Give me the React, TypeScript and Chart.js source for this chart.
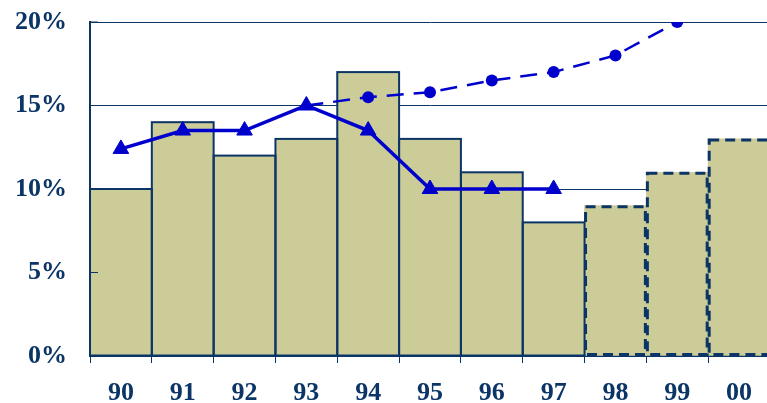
import React, { useEffect, useRef } from "react";
import { Chart, registerables } from "chart.js";

Chart.register(...registerables);

const categories = ["90", "91", "92", "93", "94", "95", "96", "97", "98", "99", "00"];
const barValues = [10, 14, 12, 13, 17, 13, 11, 8, 9, 11, 13];
const dashedBars = [false, false, false, false, false, false, false, false, true, true, true];
const actualLine = [12.4, 13.5, 13.5, 15, 13.5, 10, 10, 10, null, null, null];
const projectedLine = [null, null, null, 15, 15.5, 15.8, 16.5, 17, 18, 20, null];
const projectedRadius = [0, 0, 0, 0, 6, 6, 6, 6, 6, 6, 0];
const yTicks = [0, 5, 10, 15, 20];

const NAVY = "#0b3566";
const BLUE = "#0000cc";
const FILL = "#cccc99";

const outlinePlugin = {
  id: "outline",
  afterDatasetDraw(chart: any, args: any) {
    if (args.index !== 0) return;
    const ctx = chart.ctx;
    const meta = chart.getDatasetMeta(0);
    ctx.save();
    ctx.strokeStyle = NAVY;
    meta.data.forEach((bar: any, i: number) => {
      const p = bar.getProps(["x", "y", "base", "width"], true);
      const left = p.x - p.width / 2;
      const right = p.x + p.width / 2;
      if (dashedBars[i]) {
        ctx.lineWidth = 3;
        ctx.setLineDash([10, 6]);
        ctx.strokeRect(left + 1, p.y + 1, right - left - 2, p.base - p.y - 2);
      } else {
        ctx.lineWidth = 2;
        ctx.setLineDash([]);
        ctx.strokeRect(left, p.y, right - left, p.base - p.y);
      }
    });
    ctx.setLineDash([]);
    const y = chart.scales.y;
    const area = chart.chartArea;
    ctx.lineWidth = 1;
    yTicks.forEach((v) => {
      const py = y.getPixelForValue(v);
      ctx.beginPath();
      ctx.moveTo(area.left, py);
      ctx.lineTo(area.left + 8, py);
      ctx.stroke();
    });
    ctx.restore();
  },
};

export default function App() {
  const ref = useRef<HTMLCanvasElement | null>(null);
  useEffect(() => {
    document.body.style.margin = "0";
    document.body.style.overflow = "hidden";
    const chart = new Chart(ref.current as HTMLCanvasElement, {
      type: "bar",
      data: {
        labels: categories,
        datasets: [
          {
            type: "bar",
            data: barValues,
            backgroundColor: FILL,
            borderWidth: 0,
            categoryPercentage: 1,
            barPercentage: 1,
            order: 3,
          } as any,
          {
            type: "line",
            data: actualLine,
            borderColor: BLUE,
            backgroundColor: BLUE,
            borderWidth: 3.5,
            pointStyle: "triangle",
            pointRadius: 9,
            pointBorderWidth: 1,
            spanGaps: false,
            order: 1,
          } as any,
          {
            type: "line",
            data: projectedLine,
            borderColor: BLUE,
            backgroundColor: BLUE,
            borderWidth: 2.5,
            borderDash: [17, 10],
            pointStyle: "circle",
            pointRadius: projectedRadius,
            pointBorderWidth: 0,
            order: 2,
          } as any,
        ],
      },
      options: {
        responsive: false,
        animation: false,
        maintainAspectRatio: false,
        layout: { padding: { top: 22, right: 8, left: 0, bottom: 0 } },
        plugins: { legend: { display: false }, tooltip: { enabled: false } },
        scales: {
          x: {
            offset: true,
            afterFit: (s: any) => {
              s.height = 47;
              s.paddingLeft = 0;
              s.paddingRight = 0;
            },
            grid: {
              display: true,
              offset: true,
              drawOnChartArea: false,
              tickLength: 7,
              color: NAVY,
              lineWidth: 1,
            },
            border: { color: NAVY, width: 2 },
            ticks: {
              color: NAVY,
              font: { family: "Liberation Serif", size: 26, weight: "bold" },
              padding: 15,
              maxRotation: 0,
            },
          },
          y: {
            min: 0,
            max: 20,
            afterFit: (s: any) => {
              s.width = 90;
              s.paddingTop = 0;
              s.paddingBottom = 0;
            },
            ticks: {
              stepSize: 5,
              color: NAVY,
              padding: 23,
              font: { family: "Liberation Serif", size: 26, weight: "bold" },
              callback: (v: any) => v + "%",
            },
            grid: { color: NAVY, lineWidth: 1, tickLength: 0 },
            border: { color: NAVY, width: 2 },
          },
        },
      },
      plugins: [outlinePlugin],
    } as any);
    return () => chart.destroy();
  }, []);
  return (
    <div style={{ position: "fixed", left: 0, top: 0, width: 780, height: 403, overflow: "hidden" }}>
      <canvas ref={ref} width={780} height={403} style={{ width: 780, height: 403 }} />
    </div>
  );
}
